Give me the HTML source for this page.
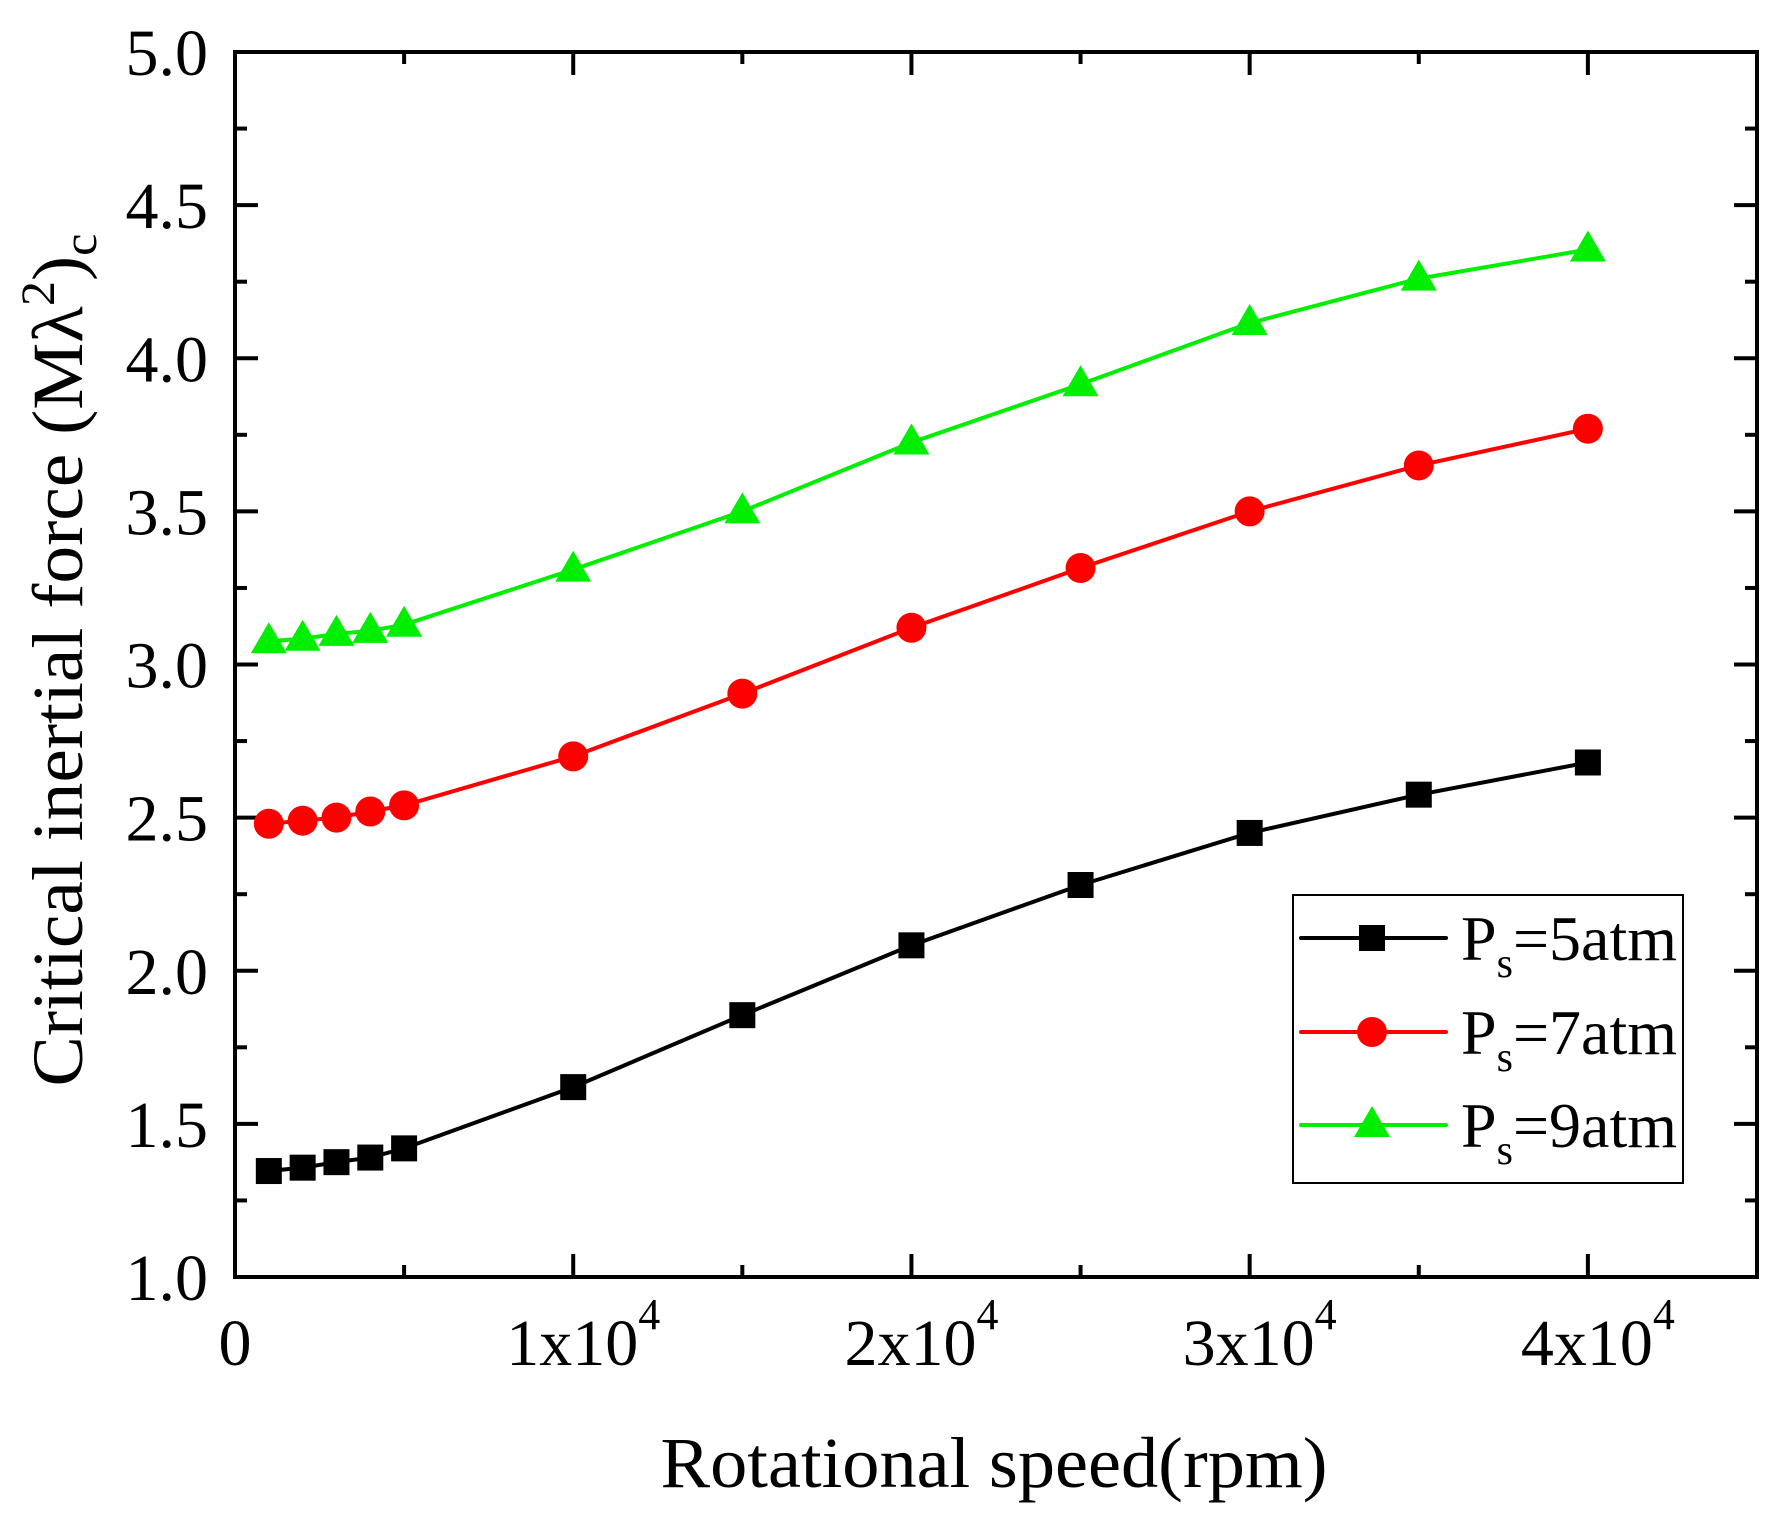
<!DOCTYPE html>
<html><head><meta charset="utf-8"><style>
html,body{margin:0;padding:0;background:#fff}
svg{display:block;font-family:"Liberation Serif",serif}
</style></head><body>
<svg id="chart" width="1787" height="1525" viewBox="0 0 1787 1525" xmlns="http://www.w3.org/2000/svg">
<g id="plot"></g>
<text x="994" y="1487" font-size="72" text-anchor="middle" textLength="667" lengthAdjust="spacingAndGlyphs">Rotational speed(rpm)</text>
<text transform="translate(82,660) rotate(-90)" font-size="72" text-anchor="middle" textLength="853" lengthAdjust="spacingAndGlyphs">Critical inertial force (Mλ<tspan font-size="48" dy="-28">2</tspan><tspan dy="28">)</tspan><tspan font-size="48" dy="14">c</tspan></text>
<g id="legend">
<rect x="1293" y="895" width="390" height="288" fill="#fff" stroke="#000" stroke-width="2"/>
</g>
</svg>
<script>
const xValues=[1000,2000,3000,4000,5000,10000,15000,20000,25000,30000,35000,40000];
const seriesP5=[1.346,1.357,1.375,1.39,1.42,1.62,1.855,2.083,2.28,2.45,2.575,2.68];
const seriesP7=[2.48,2.49,2.50,2.52,2.54,2.70,2.905,3.12,3.315,3.50,3.65,3.77];
const seriesP9=[3.076,3.084,3.10,3.11,3.13,3.31,3.50,3.725,3.915,4.115,4.26,4.355];
const seriesNames=["5atm","7atm","9atm"];
const yTicks=[1.0,1.5,2.0,2.5,3.0,3.5,4.0,4.5,5.0];
const xTicks=[0,10000,20000,30000,40000];
const xTickLabels=["0","1x10","2x10","3x10","4x10"];

const NS="http://www.w3.org/2000/svg";
const L=235,R=1757,T=52,B=1277;
const X0=0,X1=45000,Y0=1,Y1=5;
const sx=v=>L+(v-X0)/(X1-X0)*(R-L);
const sy=v=>B-(v-Y0)/(Y1-Y0)*(B-T);
const plot=document.getElementById('plot');
const svg=document.getElementById('chart');
function mk(tag,attrs,parent){const e=document.createElementNS(NS,tag);for(const k in attrs)e.setAttribute(k,attrs[k]);(parent||plot).appendChild(e);return e;}

for(let v=1;v<=5.0001;v+=0.25){
  const major=Math.abs(v*2-Math.round(v*2))<1e-6;
  const len=major?23:12;const y=sy(v);
  const t1=mk('line',{x1:L,x2:L+len,y1:y,y2:y,stroke:'#000','stroke-width':4});
  
  
  const t2=mk('line',{x1:R,x2:R-len,y1:y,y2:y,stroke:'#000','stroke-width':4});
  
  
}
for(let v=5000;v<45000;v+=5000){
  const major=v%10000===0;const len=major?23:12;const x=sx(v);
  const t1=mk('line',{x1:x,x2:x,y1:B,y2:B-len,stroke:'#000','stroke-width':4});
  
  
  const t2=mk('line',{x1:x,x2:x,y1:T,y2:T+len,stroke:'#000','stroke-width':4});
  
  
}
const frame=mk('rect',{x:L,y:T,width:R-L,height:B-T,fill:'none',stroke:'#000','stroke-width':4});



yTicks.forEach(v=>{
  const t=mk('text',{x:208,y:sy(v)+23,'font-size':66,'text-anchor':'end'},svg);
  
  
  t.textContent=v.toFixed(1);
});
xTicks.forEach((v,i)=>{
  const t=mk('text',{x:sx(v),y:1365,'font-size':66,'text-anchor':'middle'},svg);
  
  
  t.textContent=xTickLabels[i];
  if(i>0){const s=document.createElementNS(NS,'tspan');s.setAttribute('font-size','44');s.setAttribute('dy','-36');s.textContent='4';t.appendChild(s);t.setAttribute('x',sx(v)+10);}
});

function marker(kind,x,y,color,parent,name){
  let e;
  if(kind==='square')e=mk('rect',{x:x-13,y:y-13,width:26,height:26,fill:color},parent);
  else if(kind==='circle')e=mk('circle',{cx:x,cy:y,r:15,fill:color},parent);
  else e=mk('polygon',{points:`${x},${y-19} ${x+18},${y+12} ${x-18},${y+12}`,fill:color},parent);
  
  
}
const series=[[seriesP5,'#000','square'],[seriesP7,'#ff0000','circle'],[seriesP9,'#00ee00','triangle']];
series.forEach(([vals,color,kind],si)=>{
  const g=mk('g',{});
  
  
  const pts=xValues.map((x,i)=>sx(x)+','+sy(vals[i])).join(' ');
  const pl=mk('polyline',{points:pts,fill:'none',stroke:color,'stroke-width':4},g);
  
  
  xValues.forEach((x,i)=>marker(kind,sx(x),sy(vals[i]),color,g,'data-point'));
});
const lg=document.getElementById('legend');
const ly=[938,1032,1125];
series.forEach(([vals,color,kind],si)=>{
  const g=mk('g',{},lg);
  
  
  const ln=mk('line',{x1:1301,x2:1446,y1:ly[si],y2:ly[si],stroke:color,'stroke-width':4,'stroke-linecap':'round'},g);
  
  
  marker(kind,1372,ly[si],color,g,'legend-marker');
  const t=mk('text',{x:1461,y:ly[si]+22,'font-size':64},g);
  
  
  t.innerHTML='P<tspan font-size="42" dy="17">s</tspan><tspan dy="-17">='+seriesNames[si]+'</tspan>';
});
</script>
</body></html>
